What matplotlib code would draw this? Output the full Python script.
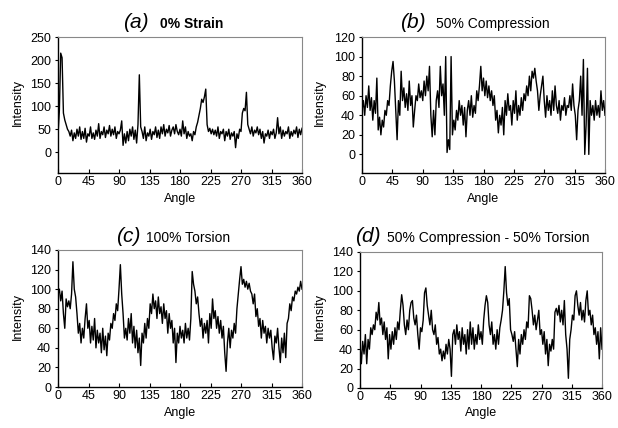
import numpy as np
import matplotlib
matplotlib.use("Agg")
import matplotlib.pyplot as plt

plt.rcParams['font.family'] = ['Liberation Sans', 'DejaVu Sans']

step = 2
angles = list(range(0, 361, step))

strain_0 = [38, 90, 215, 205, 85, 70, 60, 50, 45, 35, 48, 25, 42, 30, 50, 35, 55, 28, 45, 30,
            52, 22, 40, 35, 55, 30, 42, 28, 48, 35, 62, 30, 45, 38, 55, 32, 48, 40, 58, 35,
            50, 38, 55, 30, 45, 40, 48, 68, 15, 40, 20, 45, 25, 50, 35, 55, 28, 48, 20, 60,
            168, 55, 45, 30, 55, 25, 42, 35, 50, 28, 45, 38, 55, 32, 48, 30, 55, 40, 60, 35,
            50, 42, 58, 35, 48, 55, 40, 60, 45, 38, 50, 35, 68, 40, 55, 30, 45, 35, 40, 25,
            45, 38, 55, 65, 80, 95, 115, 108, 120, 137, 60, 45, 52, 40, 50, 38, 48, 35, 55, 30,
            45, 40, 50, 25, 45, 35, 50, 28, 42, 35, 45, 10, 40, 30, 50, 45, 85, 95, 90, 130,
            60, 50, 40, 55, 35, 48, 42, 55, 38, 50, 30, 45, 20, 40, 35, 48, 30, 45, 38, 50,
            30, 42, 75, 40, 55, 30, 48, 35, 45, 40, 55, 30, 45, 35, 48, 40, 55, 32, 50, 38, 52]

compression_50 = [45, 55, 40, 60, 48, 70, 45, 58, 35, 55, 42, 78, 25, 38, 20, 35, 28, 45, 40, 55,
                  50, 70, 85, 95, 75, 45, 15, 55, 40, 85, 55, 68, 48, 62, 45, 75, 50, 60, 28, 45,
                  60, 55, 72, 58, 65, 55, 75, 60, 80, 65, 90, 40, 18, 45, 20, 55, 65, 48, 90, 60,
                  72, 40, 100, 2, 15, 5, 100, 20, 35, 25, 45, 35, 55, 40, 50, 30, 48, 18, 45, 55,
                  40, 60, 38, 50, 42, 65, 55, 70, 90, 65, 78, 60, 75, 58, 70, 55, 65, 50, 60, 35,
                  45, 22, 40, 30, 48, 20, 55, 40, 62, 45, 50, 30, 55, 42, 65, 35, 50, 40, 58, 45,
                  62, 55, 70, 60, 80, 65, 85, 78, 88, 75, 65, 45, 60, 70, 80, 55, 38, 60, 45, 55,
                  40, 65, 45, 70, 50, 42, 55, 35, 50, 45, 58, 40, 50, 48, 60, 45, 72, 50, 40, 15,
                  45, 55, 80, 40, 97, 0, 30, 88, 0, 55, 40, 50, 35, 55, 40, 50, 38, 65, 45, 55, 40]

torsion_100 = [95, 100, 88, 98, 75, 60, 90, 82, 88, 80, 95, 128, 100, 92, 75, 55, 65, 45, 60, 50,
               70, 85, 60, 68, 45, 62, 48, 70, 40, 58, 45, 55, 35, 60, 38, 52, 32, 55, 48, 65,
               60, 75, 68, 85, 78, 100, 125, 95, 75, 50, 60, 48, 70, 55, 75, 45, 62, 40, 58, 35,
               50, 22, 55, 45, 65, 50, 70, 60, 85, 75, 95, 80, 88, 70, 92, 75, 82, 65, 85, 70,
               78, 55, 75, 60, 68, 45, 60, 25, 55, 45, 62, 50, 58, 45, 65, 50, 60, 48, 70, 118,
               105, 98, 85, 92, 75, 62, 70, 50, 65, 55, 68, 45, 75, 60, 90, 70, 78, 60, 72, 55,
               68, 50, 62, 35, 16, 45, 60, 40, 58, 50, 65, 55, 80, 95, 110, 123, 105, 110, 102, 108,
               100, 106, 98, 95, 85, 95, 72, 80, 62, 70, 50, 68, 55, 62, 45, 60, 50, 58, 40, 28,
               52, 45, 60, 40, 25, 50, 35, 55, 30, 65, 70, 85, 78, 92, 88, 98, 95, 102, 98, 108, 100]

comp_torsion = [45, 25, 48, 35, 55, 25, 50, 40, 62, 55, 65, 60, 78, 70, 88, 65, 72, 55, 68, 50,
                62, 30, 55, 40, 58, 45, 62, 50, 68, 60, 80, 96, 85, 65, 55, 70, 60, 80, 88, 90,
                72, 65, 75, 55, 40, 62, 58, 70, 98, 103, 85, 75, 65, 80, 60, 55, 65, 45, 52, 35,
                40, 28, 38, 30, 45, 35, 50, 40, 12, 55, 60, 45, 65, 50, 58, 38, 62, 45, 55, 35,
                60, 40, 68, 45, 62, 40, 55, 45, 65, 50, 58, 45, 70, 85, 95, 88, 65, 55, 68, 45,
                55, 40, 60, 45, 62, 70, 80, 100, 125, 98, 85, 92, 60, 55, 48, 58, 40, 22, 50, 35,
                55, 45, 60, 50, 68, 62, 95, 92, 80, 65, 75, 60, 70, 80, 55, 60, 45, 58, 35, 50,
                23, 45, 38, 50, 40, 78, 82, 75, 85, 68, 80, 65, 90, 55, 40, 10, 50, 60, 75, 70,
                95, 100, 85, 75, 88, 70, 80, 68, 90, 100, 75, 80, 65, 75, 55, 62, 45, 58, 30, 62, 40]

x_ticks = [0, 45, 90, 135, 180, 225, 270, 315, 360]

panels = [
    dict(data=strain_0, pos=[58, 37, 302, 173], ylim=(-45, 250), yticks=[0, 50, 100, 150, 200, 250],
         letter="a", title="0% Strain", bold=True, lx=123, tx=160, ty=28, ylx=18, yly=103, alx=180, aly=199),
    dict(data=compression_50, pos=[362, 37, 605, 173], ylim=(-19, 120), yticks=[0, 20, 40, 60, 80, 100, 120],
         letter="b", title="50% Compression", bold=False, lx=400, tx=436, ty=28, ylx=320, yly=103, alx=483, aly=199),
    dict(data=torsion_100, pos=[58, 250, 302, 387], ylim=(0, 140), yticks=[0, 20, 40, 60, 80, 100, 120, 140],
         letter="c", title="100% Torsion", bold=False, lx=116, tx=146, ty=242, ylx=18, yly=316, alx=180, aly=413),
    dict(data=comp_torsion, pos=[360, 252, 602, 388], ylim=(0, 140), yticks=[0, 20, 40, 60, 80, 100, 120, 140],
         letter="d", title="50% Compression - 50% Torsion", bold=False, lx=355, tx=387, ty=242, ylx=320, yly=317, alx=481, aly=413),
]

W, H = 618, 428
fig = plt.figure(figsize=(W / 100, H / 100), dpi=100)

for p in panels:
    l, t, r, b = p["pos"]
    ax = fig.add_axes([l / W, (H - b) / H, (r - l) / W, (b - t) / H])
    ax.plot(angles, p["data"], color="black", lw=1.0)
    ax.set_xlim(0, 360)
    ax.set_ylim(*p["ylim"])
    ax.set_xticks(x_ticks)
    ax.set_yticks(p["yticks"])
    ax.tick_params(axis="x", direction="in", length=3, pad=2, labelsize=9)
    ax.tick_params(axis="y", direction="out", length=2, pad=3, labelsize=9)
    for s in ["left", "bottom"]:
        ax.spines[s].set_color("black")
        ax.spines[s].set_linewidth(1.0)
    for s in ["top", "right"]:
        ax.spines[s].set_color("#888888")
        ax.spines[s].set_linewidth(0.8)
    fig.text(p["lx"] / W, 1 - p["ty"] / H, f"({p['letter']})", fontsize=15, style="italic",
             ha="left", va="baseline")
    fig.text(p["tx"] / W, 1 - p["ty"] / H, p["title"], fontsize=10,
             fontweight="bold" if p["bold"] else "normal", ha="left", va="baseline")
    fig.text(p["ylx"] / W, 1 - p["yly"] / H, "Intensity", fontsize=9, rotation=90,
             ha="center", va="center")
    fig.text(p["alx"] / W, 1 - p["aly"] / H, "Angle", fontsize=9, ha="center", va="center")

fig.savefig("out.png", dpi=100)
